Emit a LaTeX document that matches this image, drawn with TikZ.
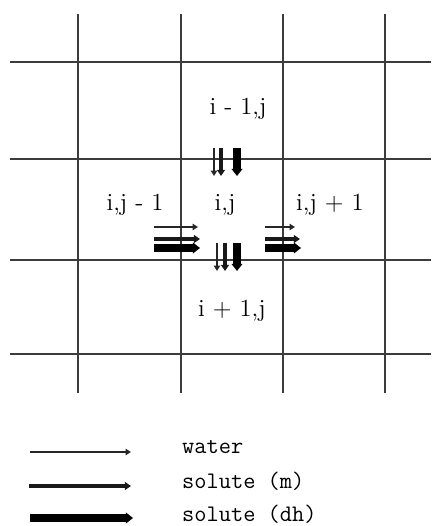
\documentclass[tikz,border=0pt]{standalone}
\usepackage{xcolor}
\usetikzlibrary{arrows.meta}

\definecolor{gridgray}{HTML}{3C3C3C}

\tikzset{
  gridline/.style={gridgray,line width=1.2pt},
  lbl/.style={anchor=base,font=\fontsize{14}{16}\selectfont},
  lgd/.style={anchor=base west,font=\fontsize{13.5}{16}\ttfamily},
  water/.style={black!85,line width=1pt,-{Triangle[length=3pt,width=3.5pt]}},
  solm/.style={black!90,line width=2pt,-{Triangle[length=3.5pt,width=4.5pt]}},
  soldh/.style={black,line width=4pt,-{Triangle[length=4pt,width=6pt]}}
}

\begin{document}
\begin{tikzpicture}[x=0.02cm,y=-0.02cm]
    % cadre
    \useasboundingbox (0,0) rectangle (433,526);

    % grille
    \foreach \gx in {78,181,283,385}
        \draw[gridline] (\gx,14) -- (\gx,393);
    \foreach \gy in {62,159,260,354}
        \draw[gridline] (10,\gy) -- (431,\gy);

    % cellules
    \node[lbl] (up)    at (238,115) {i - 1,j};
    \node[lbl] (left)  at (135,211) {i,j - 1};
    \node[lbl] (mid)   at (225,211) {i,j};
    \node[lbl] (right) at (330,211) {i,j + 1};
    \node[lbl] (down)  at (232,316) {i + 1,j};

    % flux haut
    \coordinate (UwA) at (214,148);  \coordinate (UwB) at (214,176);
    \coordinate (UmA) at (221,148);  \coordinate (UmB) at (221,176);
    \coordinate (UdA) at (237,148);  \coordinate (UdB) at (237,176);
    \draw[water] (UwA) -- (UwB);
    \draw[solm]  (UmA) -- (UmB);
    \draw[soldh] (UdA) -- (UdB);

    % flux bas
    \coordinate (DwA) at (217,243);  \coordinate (DwB) at (217,271);
    \coordinate (DmA) at (225,243);  \coordinate (DmB) at (225,271);
    \coordinate (DdA) at (237,243);  \coordinate (DdB) at (237,271);
    \draw[water] (DwA) -- (DwB);
    \draw[solm]  (DmA) -- (DmB);
    \draw[soldh] (DdA) -- (DdB);

    % flux gauche
    \coordinate (LwA) at (154,227);  \coordinate (LwB) at (198,227);
    \coordinate (LmA) at (154,239);  \coordinate (LmB) at (200,239);
    \coordinate (LdA) at (154,248);  \coordinate (LdB) at (200,248);
    \draw[water] (LwA) -- (LwB);
    \draw[solm]  (LmA) -- (LmB);
    \draw[soldh] (LdA) -- (LdB);

    % flux droite
    \coordinate (RwA) at (265,227);  \coordinate (RwB) at (295,227);
    \coordinate (RmA) at (265,239);  \coordinate (RmB) at (300,239);
    \coordinate (RdA) at (265,248);  \coordinate (RdB) at (301,248);
    \draw[water] (RwA) -- (RwB);
    \draw[solm]  (RmA) -- (RmB);
    \draw[soldh] (RdA) -- (RdB);

    % legende
    \coordinate (Gw1) at (30,452);  \coordinate (Gw2) at (131,452);
    \coordinate (Gm1) at (29,486);  \coordinate (Gm2) at (131,486);
    \coordinate (Gd1) at (30,518);  \coordinate (Gd2) at (133,518);
    \draw[water] (Gw1) -- (Gw2);
    \draw[solm]  (Gm1) -- (Gm2);
    \draw[soldh] (Gd1) -- (Gd2);
    \node[lgd] (lwater) at (176,453) {water};
    \node[lgd] (lsolm)  at (176,488) {solute (m)};
    \node[lgd] (lsoldh) at (176,521) {solute (dh)};

\end{tikzpicture}
\end{document}
